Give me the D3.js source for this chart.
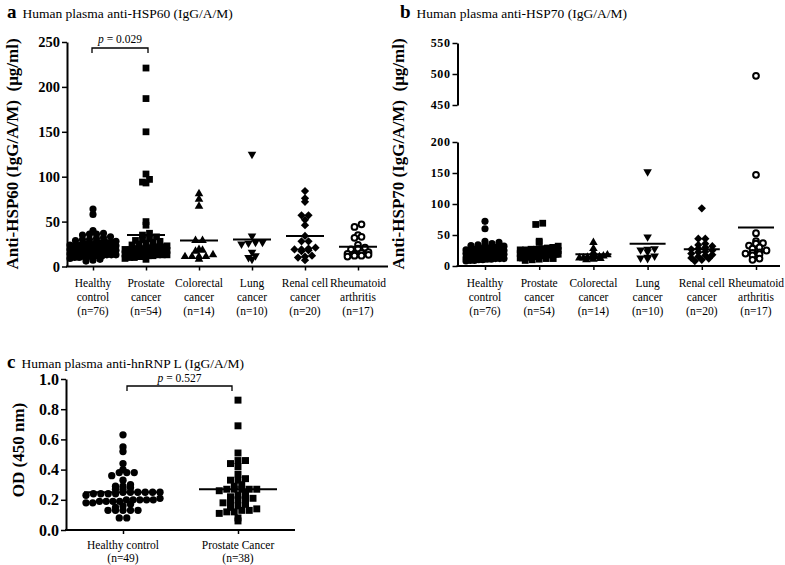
<!DOCTYPE html>
<html><head><meta charset="utf-8">
<script src="https://cdn.jsdelivr.net/npm/d3@7"></script>
<style>
body{margin:0;background:#fff}
svg{display:block}
text{font-family:"Liberation Serif","Times New Roman",serif;fill:#000}
</style>
</head><body><script>
// ---------- DATA ----------
const categories = ["Healthy control","Prostate cancer","Colorectal cancer","Lung cancer","Renal cell cancer","Rheumatoid arthritis"];
const catLine1 = ["Healthy","Prostate","Colorectal","Lung","Renal cell","Rheumatoid"];
const catLine2 = ["control","cancer","cancer","cancer","cancer","arthritis"];
const nLabels = ["(n=76)","(n=54)","(n=14)","(n=10)","(n=20)","(n=17)"];
const markerTypes = ["circle","square","triUp","triDown","diamond","openCircle"];

// Panel a: anti-HSP60 (µg/ml)
const hsp60Healthy = [64,58,40,37,36,36,35,33,32,31,30,30,29,28,27,27,26,26,25,25,24,24,24,23,23,23,22,22,22,22,21,21,21,21,20,20,20,20,20,19,19,19,19,18,18,18,18,17,17,17,17,16,16,16,16,15,15,15,15,14,14,14,13,13,13,12,12,12,11,11,10,10,9,8,7,6];
const hsp60Prostate = [221,187,150,103,97,94,93,50,46,37,35,33,31,30,29,28,27,26,25,24,23,22,22,21,20,20,19,19,18,18,18,17,17,17,16,16,16,15,15,15,14,14,14,13,13,13,12,12,11,11,10,10,9,8];
const hsp60Colorectal = [81,75,67,29,29,19,18,17,13,11,11,11,11,8];
const hsp60Lung = [125,34,27,26,25,27,16,12,10,8];
const hsp60Renal = [84,76,72,57,57,52,46,34,28,28,21,20,19,19,18,17,12,11,10,7];
const hsp60Rheumatoid = [47,44,35,33,32,24,21,20,19,16,15,14,14,13,12,12,11];
const hsp60Means = [21,35,29,30,34,22];
const hsp60Ticks = [0,50,100,150,200,250];

// Panel b: anti-HSP70 (µg/ml)
const hsp70Healthy = [72,60,40,38,36,35,34,33,32,31,30,30,29,28,28,27,27,26,26,25,25,25,24,24,24,23,23,23,22,22,22,21,21,21,21,20,20,20,20,19,19,19,19,18,18,18,18,17,17,17,17,16,16,16,16,15,15,15,15,14,14,14,14,13,13,13,12,12,12,11,11,10,10,9,9,8];
const hsp70Prostate = [69,67,40,38,32,30,29,28,27,27,26,26,25,25,25,24,24,24,23,23,23,22,22,22,21,21,21,20,20,20,19,19,19,18,18,18,17,17,17,16,16,16,15,15,15,14,14,13,13,12,12,11,10,9];
const hsp70Colorectal = [38,28,22,18,16,15,15,14,14,13,13,12,11,10];
const hsp70Lung = [152,47,28,27,26,23,16,14,13,12];
const hsp70Renal = [93,44,44,36,34,32,30,28,27,25,23,22,20,18,17,15,13,12,10,8];
const hsp70Rheumatoid = [497,147,53,40,37,36,33,30,28,25,22,21,20,19,17,12,10];
const hsp70Means = [22,22,19,36,27,62];
const hsp70TicksLow = [0,50,100,150,200];
const hsp70TicksHigh = [450,500,550];

// Panel c: anti-hnRNP L OD(450 nm)
const hnrnpCategories = ["Healthy control","Prostate Cancer"];
const hnrnpN = ["(n=49)","(n=38)"];
const hnrnpHealthy = [0.63,0.55,0.52,0.44,0.40,0.38,0.38,0.38,0.36,0.33,0.30,0.29,0.29,0.28,0.27,0.27,0.25,0.25,0.25,0.25,0.25,0.25,0.24,0.24,0.24,0.24,0.23,0.21,0.20,0.20,0.20,0.20,0.20,0.19,0.19,0.19,0.19,0.18,0.18,0.17,0.16,0.15,0.13,0.13,0.13,0.13,0.13,0.08,0.08];
const hnrnpProstate = [0.86,0.69,0.51,0.46,0.46,0.44,0.42,0.37,0.34,0.33,0.33,0.30,0.29,0.27,0.27,0.27,0.27,0.27,0.26,0.25,0.23,0.22,0.21,0.21,0.20,0.19,0.18,0.17,0.16,0.15,0.14,0.13,0.13,0.12,0.12,0.11,0.08,0.06];
const hnrnpMeans = [0.25,0.27];
const hnrnpTicks = [0.0,0.2,0.4,0.6,0.8,1.0];

// ---------- DRAW ----------
const svg = d3.select("body").append("svg").attr("width",785).attr("height",565);

// GraphPad-like scatter: bin by pixel rows, spread each row, compress if wider than maxHalf
function swarm(values, yFn, d, h, maxHalf){
  const pts=values.map(v=>({v,y:yFn(v),x:0}));
  const bins=d3.group(pts,p=>Math.round(p.y/h));
  for(const [k,arr] of bins){
    arr.sort((a,b)=>a.v-b.v);
    const n=arr.length;
    let sp=d;
    if(n>1) sp=Math.min(d,2*maxHalf/(n-1));
    arr.forEach((p,j)=>{p.x=(j-(n-1)/2)*sp;});
  }
  return pts;
}

function drawMarkers(g, pts, cx, type, scale){
  const s=scale||1;
  pts.forEach(p=>{
    let sym, size, rot=0, fill="#000", stroke="none", sw=0;
    if(type==="circle"){sym=d3.symbolCircle;size=40*s;}
    else if(type==="square"){sym=d3.symbolSquare;size=46*s;}
    else if(type==="triUp"){sym=d3.symbolTriangle;size=32*s;}
    else if(type==="triDown"){sym=d3.symbolTriangle;size=32*s;rot=180;}
    else if(type==="diamond"){sym=d3.symbolSquare;size=34*s;rot=45;}
    else {sym=d3.symbolCircle;size=26*s;fill="#fff";stroke="#000";sw=2;}
    g.append("path").attr("d",d3.symbol(sym,size)())
      .attr("transform",`translate(${cx+p.x},${p.y}) rotate(${rot})`)
      .attr("fill",fill).attr("stroke",stroke).attr("stroke-width",sw);
  });
}

function styleYAxis(ax, fs, ls){
  ax.selectAll("text").attr("font-weight","bold").attr("font-size",fs).attr("letter-spacing",ls||0).style("font-family","Liberation Serif");
  ax.selectAll("line").attr("stroke","#000").attr("stroke-width",1.5);
  ax.select(".domain").attr("stroke","#000").attr("stroke-width",2);
}

function titleText(x,y,letter,txt){
  const t=svg.append("text").attr("x",x).attr("y",y);
  t.append("tspan").attr("font-weight","bold").attr("font-size",19).text(letter);
  t.append("tspan").attr("dx",6).attr("font-size",13.5).text(txt);
}

function xLabels(x, y0, l1, l2, l3){
  l1.forEach((c,i)=>{
    const cx=x(categories[i]);
    svg.append("text").attr("x",cx).attr("y",y0).attr("text-anchor","middle").attr("font-size",11.5).text(l1[i]);
    svg.append("text").attr("x",cx).attr("y",y0+13.5).attr("text-anchor","middle").attr("font-size",11.5).text(l2[i]);
    svg.append("text").attr("x",cx).attr("y",y0+28).attr("text-anchor","middle").attr("font-size",11.5).text(l3[i]);
  });
}

const maxHalfA=[23,21,14,14,16,18];
const maxHalfB=[19,19,14,14,18,16];

// ===== Panel a =====
{
  const x=d3.scalePoint().domain(categories).range([93,358]);
  const y=d3.scaleLinear().domain([0,250]).range([266.5,42]);
  const groups=[hsp60Healthy,hsp60Prostate,hsp60Colorectal,hsp60Lung,hsp60Renal,hsp60Rheumatoid];
  titleText(7,18,"a","Human plasma anti-HSP60 (IgG/A/M)");
  const ay=svg.append("g").attr("transform","translate(67,0)")
    .call(d3.axisLeft(y).tickValues(hsp60Ticks).tickSize(5).tickSizeOuter(0).tickPadding(2));
  styleYAxis(ay,14.5);
  const ax=svg.append("g").attr("transform","translate(0,266.5)")
    .call(d3.axisBottom(x).tickSize(4).tickFormat(""));
  ax.select(".domain").remove();
  ax.selectAll("line").attr("stroke-width",1.5);
  svg.append("line").attr("x1",66).attr("x2",388).attr("y1",266.5).attr("y2",266.5).attr("stroke","#000").attr("stroke-width",2);
  xLabels(x,287,catLine1,catLine2,nLabels);
  svg.append("text").attr("transform","translate(18,154) rotate(-90)").attr("text-anchor","middle")
    .attr("font-weight","bold").attr("font-size",17).style("white-space","pre").text("Anti-HSP60 (IgG/A/M)  (\u03bcg/ml)");
  const g=svg.append("g");
  groups.forEach((vals,i)=>{
    const pts=swarm(vals,y,7,4.5,maxHalfA[i]);
    drawMarkers(g,pts,x(categories[i]),markerTypes[i]);
    const cx=x(categories[i]);
    g.append("line").attr("x1",cx-19).attr("x2",cx+19).attr("y1",y(hsp60Means[i])).attr("y2",y(hsp60Means[i])).attr("stroke","#000").attr("stroke-width",2);
  });
  const x1=x(categories[0])-1, x2=x(categories[1])+2;
  svg.append("path").attr("d",`M${x1},53V48H${x2}V53`).attr("fill","none").attr("stroke","#000").attr("stroke-width",1.3);
  const pt=svg.append("text").attr("x",(x1+x2)/2).attr("y",43).attr("text-anchor","middle").attr("font-size",11.5);
  pt.append("tspan").attr("font-style","italic").text("p");
  pt.append("tspan").text(" = 0.029");
}

// ===== Panel b =====
{
  const x=d3.scalePoint().domain(categories).range([485,756]);
  const yLow=d3.scaleLinear().domain([0,200]).range([266,142]);
  const yHigh=d3.scaleLinear().domain([450,550]).range([105,43]);
  const yf=v=>v>200?yHigh(v):yLow(v);
  const groups=[hsp70Healthy,hsp70Prostate,hsp70Colorectal,hsp70Lung,hsp70Renal,hsp70Rheumatoid];
  titleText(400,18,"b","Human plasma anti-HSP70 (IgG/A/M)");
  const a1=svg.append("g").attr("transform","translate(457.5,0)")
    .call(d3.axisLeft(yLow).tickValues(hsp70TicksLow).tickSize(5).tickSizeOuter(0).tickPadding(2));
  styleYAxis(a1,12,0.6);
  const a2=svg.append("g").attr("transform","translate(457.5,0)")
    .call(d3.axisLeft(yHigh).tickValues(hsp70TicksHigh).tickSize(5).tickSizeOuter(0).tickPadding(2));
  styleYAxis(a2,12,0.6);
  const ax=svg.append("g").attr("transform","translate(0,266)")
    .call(d3.axisBottom(x).tickSize(4).tickFormat(""));
  ax.select(".domain").remove();
  ax.selectAll("line").attr("stroke-width",1.5);
  svg.append("line").attr("x1",456.5).attr("x2",780).attr("y1",266).attr("y2",266).attr("stroke","#000").attr("stroke-width",2);
  xLabels(x,287,catLine1,catLine2,nLabels);
  svg.append("text").attr("transform","translate(404,154) rotate(-90)").attr("text-anchor","middle")
    .attr("font-weight","bold").attr("font-size",17).style("white-space","pre").text("Anti-HSP70 (IgG/A/M)  (\u03bcg/ml)");
  const g=svg.append("g");
  groups.forEach((vals,i)=>{
    const pts=swarm(vals,yf,7,4,maxHalfB[i]);
    drawMarkers(g,pts,x(categories[i]),markerTypes[i]);
    const cx=x(categories[i]);
    g.append("line").attr("x1",cx-18).attr("x2",cx+18).attr("y1",yLow(hsp70Means[i])).attr("y2",yLow(hsp70Means[i])).attr("stroke","#000").attr("stroke-width",2);
  });
}

// ===== Panel c =====
{
  const x=d3.scalePoint().domain(hnrnpCategories).range([123,238]);
  const y=d3.scaleLinear().domain([0,1]).range([530,379]);
  titleText(7,368,"c","Human plasma anti-hnRNP L (IgG/A/M)");
  const ay=svg.append("g").attr("transform","translate(66,0)")
    .call(d3.axisLeft(y).tickValues(hnrnpTicks).tickFormat(d3.format(".1f")).tickSize(5).tickSizeOuter(0).tickPadding(2));
  styleYAxis(ay,16);
  const ax=svg.append("g").attr("transform","translate(0,530)")
    .call(d3.axisBottom(x).tickSize(4).tickFormat(""));
  ax.select(".domain").remove();
  ax.selectAll("line").attr("stroke-width",1.5);
  svg.append("line").attr("x1",65).attr("x2",295).attr("y1",530).attr("y2",530).attr("stroke","#000").attr("stroke-width",2);
  hnrnpCategories.forEach((c,i)=>{
    svg.append("text").attr("x",x(c)).attr("y",549).attr("text-anchor","middle").attr("font-size",11.5).text(c);
    svg.append("text").attr("x",x(c)).attr("y",562).attr("text-anchor","middle").attr("font-size",11.5).text(hnrnpN[i]);
  });
  svg.append("text").attr("transform","translate(24,450) rotate(-90)").attr("text-anchor","middle")
    .attr("font-weight","bold").attr("font-size",17).text("OD (450 nm)");
  const g=svg.append("g");
  [hnrnpHealthy,hnrnpProstate].forEach((vals,i)=>{
    const pts=swarm(vals,y,7.5,5.5,i===0?37:34);
    drawMarkers(g,pts,x(hnrnpCategories[i]),i===0?"circle":"square",1.05);
    const cx=x(hnrnpCategories[i]);
    g.append("line").attr("x1",cx-39).attr("x2",cx+39).attr("y1",y(hnrnpMeans[i])).attr("y2",y(hnrnpMeans[i])).attr("stroke","#000").attr("stroke-width",2);
  });
  const x1=127, x2=232;
  svg.append("path").attr("d",`M${x1},391V386H${x2}V391`).attr("fill","none").attr("stroke","#000").attr("stroke-width",1.3);
  const pt=svg.append("text").attr("x",(x1+x2)/2).attr("y",382).attr("text-anchor","middle").attr("font-size",11.5);
  pt.append("tspan").attr("font-style","italic").text("p");
  pt.append("tspan").text(" = 0.527");
}
</script></body></html>
